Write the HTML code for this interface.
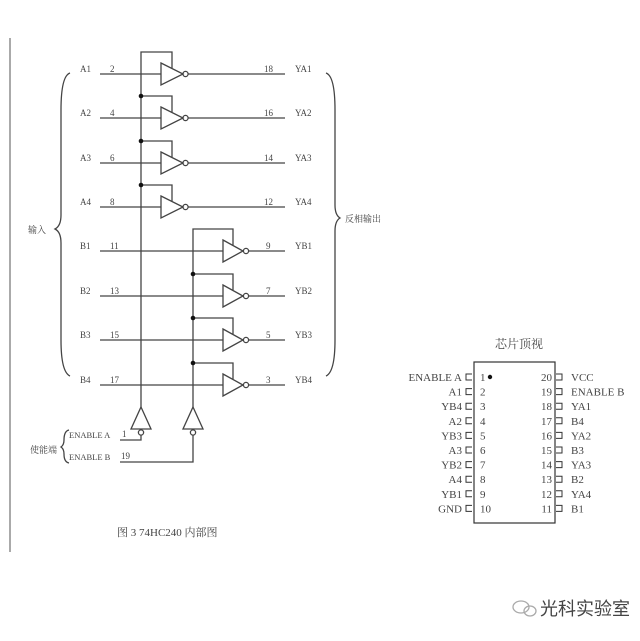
<!DOCTYPE html>
<html><head><meta charset="utf-8"><style>
body{margin:0;background:#fff;}
svg{display:block;}
text{font-family:"Liberation Serif","Noto Serif CJK SC",serif;fill:#444;}
</style></head><body>
<svg width="640" height="641" viewBox="0 0 640 641" xmlns="http://www.w3.org/2000/svg">
<rect width="640" height="641" fill="#fff"/>
<line x1="10" y1="38" x2="10" y2="552" stroke="#aaa" stroke-width="2"/>
<g stroke="#444" stroke-width="1.3" fill="none">
<!-- left brace -->
<path d="M70,73 Q61,76 61,110 L61,215 Q61,226 55,229 Q61,232 61,243 L61,340 Q61,372 70,376"/>
<!-- right brace -->
<path d="M326,73 Q335,76 335,110 L335,205 Q335,215 340,218 Q335,221 335,231 L335,340 Q335,372 326,376"/>
<!-- small brace -->
<path d="M69,430 Q64,431 64,440 Q64,445 61,447 Q64,449 64,454 Q64,462 69,463"/>
<!-- A enable vertical -->
<polyline points="141,407 141,52 172,52 172,68"/>
<polyline points="141,96 172,96 172,112"/>
<polyline points="141,141 172,141 172,157"/>
<polyline points="141,185 172,185 172,201"/>
<!-- B enable vertical -->
<polyline points="193,407 193,229 233,229 233,245"/>
<polyline points="193,274 233,274 233,290"/>
<polyline points="193,318 233,318 233,334"/>
<polyline points="193,363 233,363 233,379"/>
<!-- A rows -->
<g>
<line x1="100" y1="74" x2="161" y2="74"/><path d="M161,63 L183,74 L161,85 Z"/><circle cx="185.5" cy="74" r="2.6"/><line x1="188" y1="74" x2="285" y2="74"/>
<line x1="100" y1="118" x2="161" y2="118"/><path d="M161,107 L183,118 L161,129 Z"/><circle cx="185.5" cy="118" r="2.6"/><line x1="188" y1="118" x2="285" y2="118"/>
<line x1="100" y1="163" x2="161" y2="163"/><path d="M161,152 L183,163 L161,174 Z"/><circle cx="185.5" cy="163" r="2.6"/><line x1="188" y1="163" x2="285" y2="163"/>
<line x1="100" y1="207" x2="161" y2="207"/><path d="M161,196 L183,207 L161,218 Z"/><circle cx="185.5" cy="207" r="2.6"/><line x1="188" y1="207" x2="285" y2="207"/>
</g>
<!-- B rows -->
<g>
<line x1="100" y1="251" x2="223" y2="251"/><path d="M223,240 L243,251 L223,262 Z"/><circle cx="246" cy="251" r="2.6"/><line x1="249" y1="251" x2="285" y2="251"/>
<line x1="100" y1="296" x2="223" y2="296"/><path d="M223,285 L243,296 L223,307 Z"/><circle cx="246" cy="296" r="2.6"/><line x1="249" y1="296" x2="285" y2="296"/>
<line x1="100" y1="340" x2="223" y2="340"/><path d="M223,329 L243,340 L223,351 Z"/><circle cx="246" cy="340" r="2.6"/><line x1="249" y1="340" x2="285" y2="340"/>
<line x1="100" y1="385" x2="223" y2="385"/><path d="M223,374 L243,385 L223,396 Z"/><circle cx="246" cy="385" r="2.6"/><line x1="249" y1="385" x2="285" y2="385"/>
</g>
<!-- enable buffers -->
<path d="M141,407 L151,429 L131,429 Z"/><circle cx="141" cy="432.5" r="2.6"/>
<path d="M193,407 L203,429 L183,429 Z"/><circle cx="193" cy="432.5" r="2.6"/>
<polyline points="120,440 141,440 141,435"/>
<polyline points="120,462 193,462 193,435"/>
</g>
<g fill="#111">
<circle cx="141" cy="96" r="2.3"/><circle cx="141" cy="141" r="2.3"/><circle cx="141" cy="185" r="2.3"/>
<circle cx="193" cy="274" r="2.3"/><circle cx="193" cy="318" r="2.3"/><circle cx="193" cy="363" r="2.3"/>
</g>
<g font-size="9">
<text x="80" y="72">A1</text><text x="110" y="72">2</text><text x="264" y="72">18</text><text x="295" y="72">YA1</text>
<text x="80" y="116">A2</text><text x="110" y="116">4</text><text x="264" y="116">16</text><text x="295" y="116">YA2</text>
<text x="80" y="161">A3</text><text x="110" y="161">6</text><text x="264" y="161">14</text><text x="295" y="161">YA3</text>
<text x="80" y="205">A4</text><text x="110" y="205">8</text><text x="264" y="205">12</text><text x="295" y="205">YA4</text>
<text x="80" y="249">B1</text><text x="110" y="249">11</text><text x="266" y="249">9</text><text x="295" y="249">YB1</text>
<text x="80" y="294">B2</text><text x="110" y="294">13</text><text x="266" y="294">7</text><text x="295" y="294">YB2</text>
<text x="80" y="338">B3</text><text x="110" y="338">15</text><text x="266" y="338">5</text><text x="295" y="338">YB3</text>
<text x="80" y="383">B4</text><text x="110" y="383">17</text><text x="266" y="383">3</text><text x="295" y="383">YB4</text>
<text x="69" y="438" font-size="8.5">ENABLE A</text><text x="122" y="437">1</text>
<text x="69" y="460" font-size="8.5">ENABLE B</text><text x="121" y="459">19</text>
<text x="28" y="233">输入</text>
<text x="345" y="222">反相输出</text>
<text x="30" y="453">使能端</text>
</g>
<text x="117" y="536" font-size="11">图 3  74HC240 内部图</text>
<!-- chip -->
<text x="495" y="348" font-size="12" fill="#222">芯片顶视</text>
<rect x="474" y="362" width="81" height="161" fill="none" stroke="#333" stroke-width="1.2"/>
<circle cx="490" cy="377" r="2.2" fill="#111"/>
<g font-size="11" fill="#222">
<g text-anchor="end">
<text x="462" y="381">ENABLE A</text><text x="462" y="395.6">A1</text><text x="462" y="410.2">YB4</text><text x="462" y="424.8">A2</text><text x="462" y="439.4">YB3</text><text x="462" y="454">A3</text><text x="462" y="468.6">YB2</text><text x="462" y="483.2">A4</text><text x="462" y="497.8">YB1</text><text x="462" y="512.4">GND</text>
<text x="552" y="381">20</text><text x="552" y="395.6">19</text><text x="552" y="410.2">18</text><text x="552" y="424.8">17</text><text x="552" y="439.4">16</text><text x="552" y="454">15</text><text x="552" y="468.6">14</text><text x="552" y="483.2">13</text><text x="552" y="497.8">12</text><text x="552" y="512.4">11</text>
</g>
<text x="480" y="381">1</text><text x="480" y="395.6">2</text><text x="480" y="410.2">3</text><text x="480" y="424.8">4</text><text x="480" y="439.4">5</text><text x="480" y="454">6</text><text x="480" y="468.6">7</text><text x="480" y="483.2">8</text><text x="480" y="497.8">9</text><text x="480" y="512.4">10</text>
<text x="571" y="381">VCC</text><text x="571" y="395.6">ENABLE B</text><text x="571" y="410.2">YA1</text><text x="571" y="424.8">B4</text><text x="571" y="439.4">YA2</text><text x="571" y="454">B3</text><text x="571" y="468.6">YA3</text><text x="571" y="483.2">B2</text><text x="571" y="497.8">YA4</text><text x="571" y="512.4">B1</text>
</g>
<g fill="none" stroke="#333" stroke-width="1">
<path d="M472,374h-6v6h6 M472,388.6h-6v6h6 M472,403.2h-6v6h6 M472,417.8h-6v6h6 M472,432.4h-6v6h6 M472,447h-6v6h6 M472,461.6h-6v6h6 M472,476.2h-6v6h6 M472,490.8h-6v6h6 M472,505.4h-6v6h6"/>
<path d="M556,374h6v6h-6 M556,388.6h6v6h-6 M556,403.2h6v6h-6 M556,417.8h6v6h-6 M556,432.4h6v6h-6 M556,447h6v6h-6 M556,461.6h6v6h-6 M556,476.2h6v6h-6 M556,490.8h6v6h-6 M556,505.4h6v6h-6"/>
</g>
<!-- watermark -->
<g stroke="#aaa" fill="none" stroke-width="1.3">
<ellipse cx="521" cy="607" rx="8" ry="6"/><ellipse cx="530" cy="611" rx="6" ry="5"/>
</g>
<text x="540" y="615" font-size="18" fill="#999" style="font-family:'Liberation Sans','Noto Sans CJK SC',sans-serif">光科实验室</text>
</svg>
</body></html>
